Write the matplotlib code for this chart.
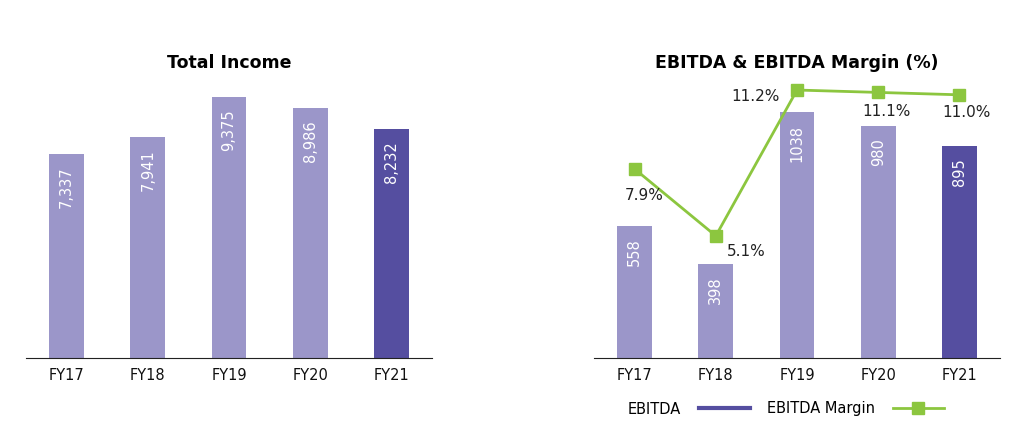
import matplotlib.pyplot as plt
from matplotlib.lines import Line2D

years = ["FY17", "FY18", "FY19", "FY20", "FY21"]
total_income = [7337, 7941, 9375, 8986, 8232]
ebitda = [558, 398, 1038, 980, 895]
ebitda_margin = [7.9, 5.1, 11.2, 11.1, 11.0]
income_labels = ["7,337", "7,941", "9,375", "8,986", "8,232"]
margin_labels = ["7.9%", "5.1%", "11.2%", "11.1%", "11.0%"]

light = "#9b96c9"
dark = "#554ea0"
green = "#8cc63f"
bar_colors = [light, light, light, light, dark]

plt.rcParams["font.family"] = ["DejaVu Sans"]

fig = plt.figure(figsize=(10.24, 4.26), dpi=100)
ax1 = fig.add_axes([26 / 1024, 0.16, 406 / 1024, 0.65])
ax2 = fig.add_axes([594 / 1024, 0.16, 406 / 1024, 0.65])

x = range(len(years))


def style(ax):
    for s in ["top", "right", "left"]:
        ax.spines[s].set_visible(False)
    ax.spines["bottom"].set_color("#222222")
    ax.set_yticks([])
    ax.set_xticks(list(x))
    ax.set_xticklabels(years, fontsize=10.5, color="#111111")
    ax.tick_params(axis="x", length=0, pad=7)
    ax.set_xlim(-0.5, 4.5)


# Total income
bars = ax1.bar(x, total_income, width=0.43, color=bar_colors)
for b, lab in zip(bars, income_labels):
    ax1.annotate(lab, (b.get_x() + b.get_width() / 2, b.get_height()),
                 xytext=(0, -9), textcoords="offset points", rotation=90,
                 ha="center", va="top", color="white", fontsize=10.5)
ax1.set_ylim(0, 9960)
style(ax1)
ax1.set_title("Total Income", fontsize=12.5, fontweight="bold", pad=9)

# EBITDA and margin
bars = ax2.bar(x, ebitda, width=0.43, color=bar_colors)
for b, lab in zip(bars, ebitda):
    ax2.annotate(str(lab), (b.get_x() + b.get_width() / 2, b.get_height()),
                 xytext=(0, -9), textcoords="offset points", rotation=90,
                 ha="center", va="top", color="white", fontsize=10.5)
ax2.set_ylim(0, 1171)
style(ax2)
ax2.set_title("EBITDA & EBITDA Margin (%)", fontsize=12.5, fontweight="bold", pad=9)

ax3 = ax2.twinx()
ax3.plot(x, ebitda_margin, color=green, lw=2, marker="s", ms=8)
ax3.set_ylim(0, 11.58)
ax3.set_yticks([])
for s in ax3.spines.values():
    s.set_visible(False)
offsets = [(7, -19), (22, -11), (-30, -5), (6, -14), (5, -13)]
for i, (v, lab) in enumerate(zip(ebitda_margin, margin_labels)):
    ax3.annotate(lab, (i, v), xytext=offsets[i], textcoords="offset points",
                 ha="center", va="center", fontsize=11, color="#222222")

handles = [Line2D([], [], color=dark, lw=3),
           Line2D([], [], color=green, lw=2, marker="s", ms=8)]
fig.legend(handles, ["EBITDA", "EBITDA Margin"], loc="center",
           bbox_to_anchor=(786 / 1024, 1 - 409 / 426), ncol=2, frameon=False,
           markerfirst=False, fontsize=10.5, handlelength=3.5,
           handletextpad=1.2, columnspacing=1.2)

fig.savefig("out.png", dpi=100)
